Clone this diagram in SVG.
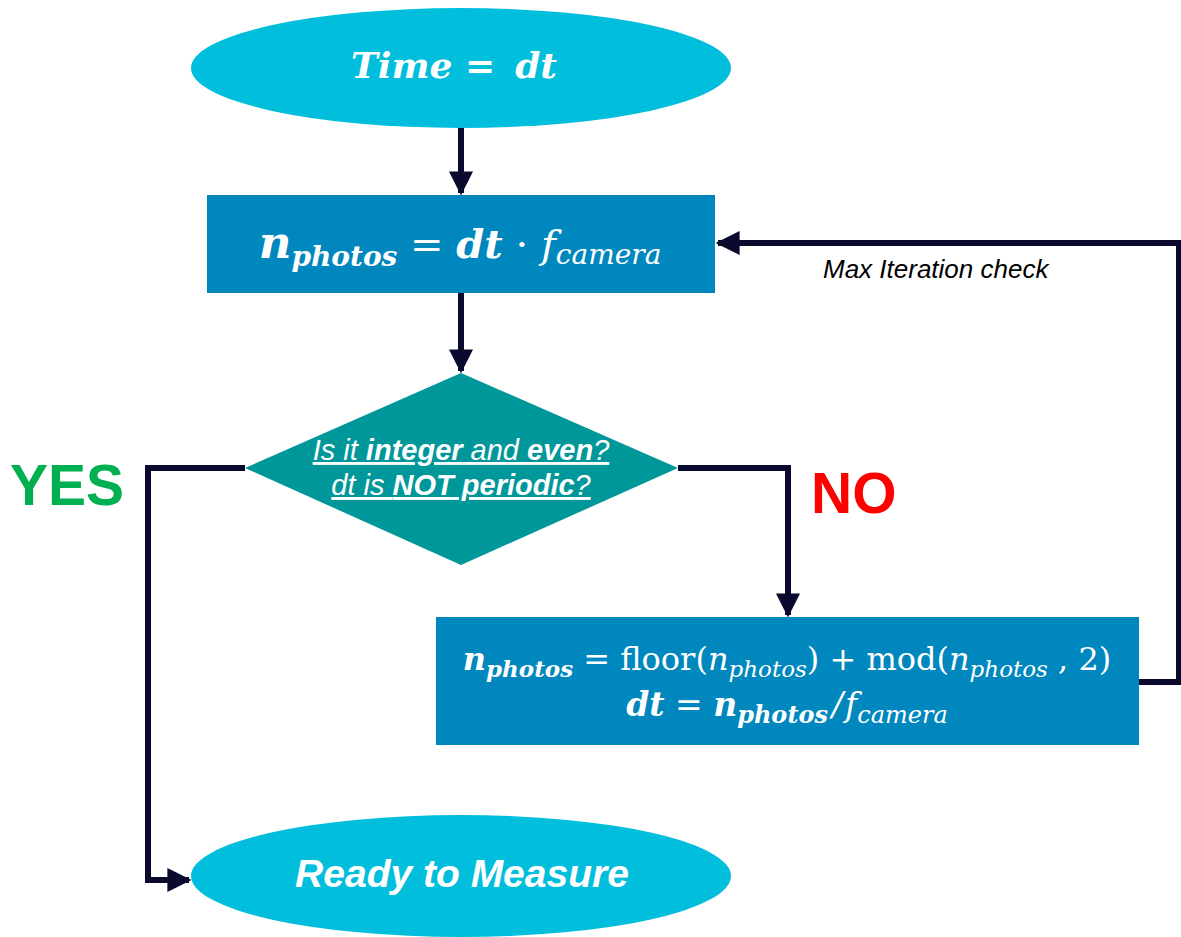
<svg xmlns="http://www.w3.org/2000/svg" width="1181" height="937" viewBox="0 0 1181 937">
<defs>
<style>
.conn{fill:none;stroke:#0a0a2e;stroke-width:6;stroke-linejoin:miter}
.math{font-family:"DejaVu Serif","Liberation Serif",serif;fill:#fff;font-style:italic}
.b{font-weight:bold}
.up{font-style:normal}
.q{font-family:"Liberation Sans",Arial,sans-serif;fill:#fff;font-style:italic;font-size:29px;text-decoration:underline}
.lbl{font-family:"Liberation Sans",Arial,sans-serif;font-weight:bold;font-size:57px}
</style>
<marker id="ah" viewBox="0 0 10 10" refX="9" refY="5" markerWidth="4" markerHeight="4" orient="auto" markerUnits="strokeWidth">
<path d="M0,0 L10,5 L0,10 z" fill="#0a0a2e"/>
</marker>
</defs>
<rect width="1181" height="937" fill="#fff"/>
<g id="connectors">
<path class="conn" d="M461,128 V193" marker-end="url(#ah)"/>
<path class="conn" d="M461,293 V371" marker-end="url(#ah)"/>
<path class="conn" d="M245,468 H148 V880 H189" marker-end="url(#ah)"/>
<path class="conn" d="M678,468 H788 V615" marker-end="url(#ah)"/>
<path class="conn" d="M1139,682 H1179 V243 H718" marker-end="url(#ah)"/>
</g>
<g id="start">
<ellipse cx="461" cy="68" rx="270" ry="60" fill="#00bedc"/>
<text class="math b" x="454" y="78" text-anchor="middle" font-size="36">Time <tspan class="up">=</tspan><tspan dx="20">dt</tspan></text>
</g>
<g id="compute">
<rect x="207" y="195" width="508" height="98" fill="#0087be"/>
<text class="math" x="460" y="258" text-anchor="middle" font-size="40"><tspan class="b" font-size="45">n</tspan><tspan class="b" font-size="28" dy="8">photos</tspan><tspan class="up" dy="-8"> = </tspan><tspan class="b">dt</tspan><tspan class="up"> · </tspan><tspan>f</tspan><tspan font-size="28" dy="6">camera</tspan></text>
</g>
<g id="decision">
<polygon points="461,373 678,468 461,565 245,468" fill="#00979a"/>
<text class="q" x="461" y="460" text-anchor="middle">Is it <tspan font-weight="bold">integer</tspan> and <tspan font-weight="bold">even</tspan>?</text>
<text class="q" x="461" y="495" text-anchor="middle">dt is <tspan font-weight="bold">NOT periodic</tspan>?</text>
</g>
<g id="update">
<rect x="436" y="617" width="703" height="128" fill="#0087be"/>
<text class="math" x="787" y="670" text-anchor="middle" font-size="32"><tspan class="b">n</tspan><tspan class="b" font-size="23" dy="7">photos</tspan><tspan class="up" dy="-7"> = floor(</tspan><tspan>n</tspan><tspan font-size="23" dy="7">photos</tspan><tspan class="up" dy="-7">) + mod(</tspan><tspan>n</tspan><tspan font-size="23" dy="7">photos</tspan><tspan class="up" dy="-7"> , 2)</tspan></text>
<text class="math" x="787" y="716" text-anchor="middle" font-size="33"><tspan class="b">dt</tspan><tspan class="up"> = </tspan><tspan class="b">n</tspan><tspan class="b" font-size="24" dy="7">photos</tspan><tspan dy="-7" dx="4">/</tspan><tspan dx="2">f</tspan><tspan font-size="24" dy="7">camera</tspan></text>
</g>
<g id="end">
<ellipse cx="461" cy="876" rx="270" ry="61" fill="#00bedc"/>
<text x="462" y="887" text-anchor="middle" font-family="Liberation Sans,Arial,sans-serif" font-size="39" font-weight="bold" font-style="italic" fill="#fff">Ready to Measure</text>
</g>
<g id="labels">
<text class="lbl" x="10" y="505" fill="#00b050">YES</text>
<text class="lbl" x="811" y="513" fill="#ff0000">NO</text>
<text x="823" y="278" font-family="Liberation Sans,Arial,sans-serif" font-size="26" font-style="italic" fill="#000">Max Iteration check</text>
</g>
</svg>
